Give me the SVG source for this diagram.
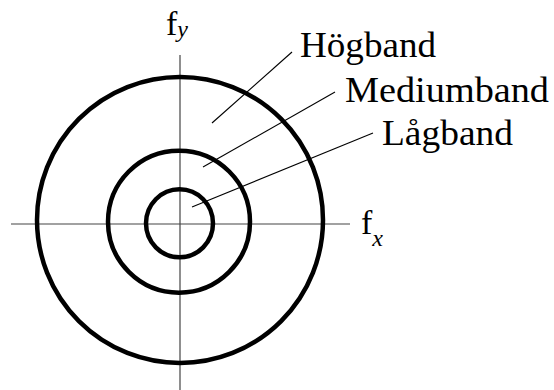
<svg xmlns="http://www.w3.org/2000/svg" width="554" height="390" viewBox="0 0 554 390">
<style>
.ring{fill:none;stroke:#000;stroke-width:4.5}
.axis{stroke:#444;stroke-width:1.2}
.lead{stroke:#000;stroke-width:1.1}
text{font-family:"Liberation Serif","Times New Roman",serif;fill:#000}
.lbl{font-size:35px}
.ax{font-size:34px}
.sub{font-size:24px;font-style:italic}
</style>
<rect width="554" height="390" fill="#fff"/>
<g id="axes">
<line class="axis" x1="11" y1="224" x2="350" y2="224"/>
<line class="axis" x1="180" y1="55" x2="180" y2="390"/>
</g>
<g id="outer"><ellipse class="ring" cx="180" cy="220" rx="143" ry="143"/></g>
<g id="middle"><ellipse class="ring" cx="179" cy="221.7" rx="71" ry="71"/></g>
<g id="inner"><ellipse class="ring" cx="179.5" cy="223.3" rx="33.5" ry="34"/></g>
<g id="connectors">
<line class="lead" x1="212" y1="123" x2="292" y2="52"/>
<line class="lead" x1="203" y1="167" x2="335" y2="92"/>
<line class="lead" x1="192" y1="207" x2="373" y2="133"/>
</g>
<g id="labels">
<text class="lbl" x="300" y="57" textLength="136" lengthAdjust="spacingAndGlyphs">Högband</text>
<text class="lbl" x="345" y="102" textLength="204" lengthAdjust="spacingAndGlyphs">Mediumband</text>
<text class="lbl" x="382" y="145" textLength="131" lengthAdjust="spacingAndGlyphs">Lågband</text>
</g>
<g id="fy"><text class="ax" x="166" y="35">f<tspan class="sub" dy="2">y</tspan></text></g>
<g id="fx"><text class="ax" x="361" y="234">f<tspan class="sub" dy="12">x</tspan></text></g>
</svg>
